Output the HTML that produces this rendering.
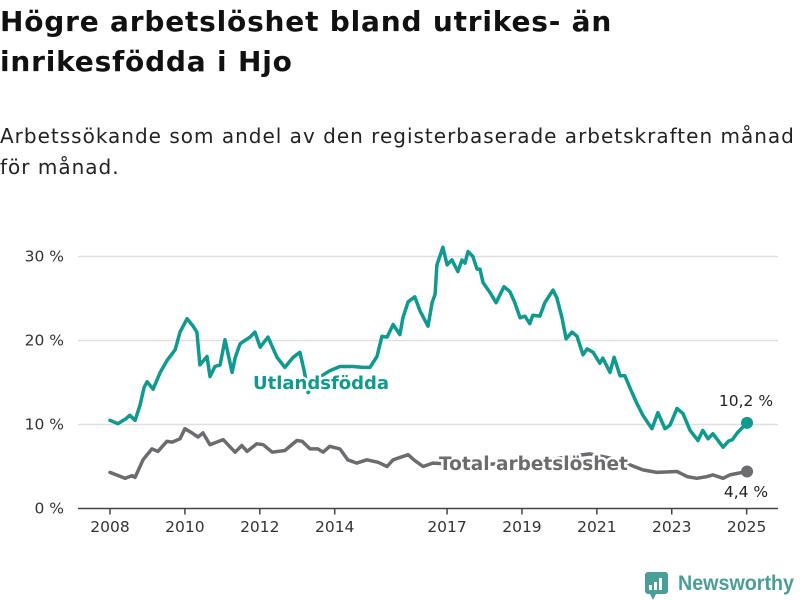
<!DOCTYPE html>
<html><head><meta charset="utf-8"><style>
body{margin:0;background:#fff;width:800px;height:600px;overflow:hidden;font-family:"DejaVu Sans","Liberation Sans",sans-serif}
h1{position:absolute;left:0;top:2px;margin:0;font-size:28px;letter-spacing:0.8px;line-height:40px;font-weight:bold;color:#111;width:820px;white-space:nowrap}
p.sub{position:absolute;left:0;top:121px;margin:0;font-size:20px;letter-spacing:1px;line-height:31px;color:#222;width:820px;white-space:nowrap}
svg{position:absolute;left:0;top:0}
</style></head><body>
<h1>Högre arbetslöshet bland utrikes- än<br>inrikesfödda i Hjo</h1>
<p class="sub">Arbetssökande som andel av den registerbaserade arbetskraften månad<br>för månad.</p>
<svg id="chart" width="800" height="600"></svg>
<script>
const yTicks=[0,10,20,30];
const yTickLabels=["0 %","10 %","20 %","30 %"];
const xTicks=[2008,2010,2012,2014,2017,2019,2021,2023,2025];
const foreignDates=[2008.00,2008.21,2008.43,2008.53,2008.67,2008.80,2008.91,2008.99,2009.15,2009.34,2009.52,2009.74,2009.87,2010.06,2010.22,2010.32,2010.40,2010.59,2010.67,2010.80,2010.94,2011.07,2011.26,2011.34,2011.47,2011.60,2011.74,2011.87,2012.01,2012.22,2012.46,2012.67,2012.89,2013.07,2013.18,2013.29,2013.55,2013.87,2014.14,2014.49,2014.76,2014.94,2015.13,2015.26,2015.40,2015.56,2015.74,2015.82,2015.96,2016.14,2016.28,2016.49,2016.60,2016.68,2016.73,2016.89,2017.00,2017.13,2017.29,2017.40,2017.48,2017.56,2017.69,2017.80,2017.88,2017.96,2018.15,2018.31,2018.52,2018.68,2018.81,2018.95,2019.08,2019.21,2019.29,2019.48,2019.61,2019.83,2019.93,2020.07,2020.18,2020.34,2020.47,2020.63,2020.74,2020.90,2021.08,2021.16,2021.35,2021.46,2021.62,2021.75,2021.88,2022.07,2022.23,2022.47,2022.63,2022.82,2022.95,2023.14,2023.30,2023.49,2023.70,2023.83,2023.97,2024.10,2024.37,2024.51,2024.62,2024.75,2024.88,2025.01];
const foreignValues=[10.5,10.1,10.7,11.1,10.5,12.3,14.4,15.1,14.2,16.2,17.6,18.9,21.0,22.6,21.7,21.0,17.1,18.1,15.7,16.9,17.1,20.1,16.2,17.9,19.6,20.0,20.4,21.0,19.2,20.4,18.0,16.8,18.0,18.6,16.5,13.8,15.5,16.4,16.9,16.9,16.8,16.8,18.1,20.5,20.4,21.9,20.7,22.7,24.6,25.2,23.5,21.7,24.5,25.5,29.0,31.1,29.0,29.6,28.2,29.6,29.2,30.6,30.0,28.5,28.5,26.9,25.7,24.5,26.4,25.8,24.5,22.7,22.9,22.0,23.0,22.9,24.5,26.0,25.1,22.7,20.2,21.0,20.5,18.3,19.0,18.6,17.3,17.9,16.2,18.0,15.8,15.8,14.4,12.5,11.1,9.5,11.4,9.5,9.9,11.9,11.3,9.3,8.1,9.3,8.3,8.9,7.3,8.0,8.2,9.0,9.6,10.2];
const totalDates=[2008.00,2008.40,2008.59,2008.67,2008.88,2009.12,2009.28,2009.52,2009.66,2009.87,2010.00,2010.19,2010.35,2010.48,2010.67,2011.02,2011.34,2011.52,2011.66,2011.92,2012.09,2012.33,2012.67,2012.99,2013.13,2013.34,2013.55,2013.69,2013.87,2014.14,2014.35,2014.59,2014.86,2015.16,2015.40,2015.56,2015.96,2016.14,2016.36,2016.62,2017.08,2017.88,2018.68,2019.48,2020.28,2020.82,2021.35,2021.88,2022.23,2022.60,2023.14,2023.41,2023.67,2023.94,2024.10,2024.37,2024.55,2025.01];
const totalValues=[4.3,3.6,3.9,3.7,5.8,7.1,6.8,8.0,7.9,8.3,9.5,9.0,8.5,9.0,7.6,8.2,6.7,7.5,6.8,7.7,7.6,6.7,6.9,8.1,8.0,7.1,7.1,6.7,7.4,7.1,5.8,5.4,5.8,5.5,5.0,5.8,6.4,5.7,5.0,5.4,5.3,5.2,5.4,5.6,6.2,6.5,6.0,5.2,4.6,4.3,4.4,3.8,3.6,3.8,4.0,3.6,4.0,4.4];
const foreignLabel="Utlandsfödda", totalLabel="Total arbetslöshet";
const TEAL="#0e9a8e", GRAY="#6b6b70";
const x=d=>110+(d-2008)*37.45;
const y=v=>508.5-v*8.4;
const svg=document.getElementById('chart');
const NS="http://www.w3.org/2000/svg";
function mk(tag,attrs,parent){const e=document.createElementNS(NS,tag);for(const k in attrs)e.setAttribute(k,attrs[k]);(parent||svg).appendChild(e);return e;}
yTicks.forEach((t,i)=>{
  if(t>0){const g=mk('line',{x1:78,x2:778,y1:y(t),y2:y(t),stroke:'#e0e0e0','stroke-width':1.5});
  
  }
  const tx=mk('text',{x:64,y:y(t)+5,'text-anchor':'end','font-size':15.5,fill:'#333','font-family':'DejaVu Sans, Liberation Sans, sans-serif'});
  tx.textContent=yTickLabels[i];
  
  
});
const ax=mk('line',{x1:78,x2:778,y1:y(0),y2:y(0),stroke:'#444','stroke-width':1.5});


xTicks.forEach(t=>{
  const tk=mk('line',{x1:x(t),x2:x(t),y1:y(0),y2:y(0)+6,stroke:'#444','stroke-width':1.5});
  
  
  const tx=mk('text',{x:x(t),y:532,'text-anchor':'middle','font-size':15.5,fill:'#333','font-family':'DejaVu Sans, Liberation Sans, sans-serif'});
  tx.textContent=t;
  
  
});
function line(dates,vals,color,name){
  const d=dates.map((t,i)=>(i?'L':'M')+x(t).toFixed(1)+','+y(vals[i]).toFixed(1)).join('');
  const p=mk('path',{d:d,fill:'none',stroke:color,'stroke-width':3.5,'stroke-linejoin':'round','stroke-linecap':'round'});
  
  
  const n=dates.length-1;
  const c=mk('circle',{cx:x(dates[n]),cy:y(vals[n]),r:6,fill:color});
  
  
}
line(totalDates,totalValues,GRAY,'total-line');
line(foreignDates,foreignValues,TEAL,'foreign-born-line');
function lab(txt,xx,yy,color,size,bold,name,anchor){
  const t=mk('text',{x:xx,y:yy,fill:color,'font-size':size,'font-weight':bold?'bold':'normal','text-anchor':anchor||'start',stroke:'#fff','stroke-width':bold?5:0,'paint-order':'stroke','stroke-linejoin':'round','font-family':'DejaVu Sans, Liberation Sans, sans-serif'});
  t.textContent=txt;
  
  
}
lab(foreignLabel,253,389,TEAL,18,true,'foreign-born-series-label');
lab(totalLabel,439,470,GRAY,18.5,true,'total-series-label');
lab((foreignValues[foreignValues.length-1]).toFixed(1).replace('.',',')+' %',746,406,'#222',15.5,false,'foreign-born-end-value','middle');
lab((totalValues[totalValues.length-1]).toFixed(1).replace('.',',')+' %',746,497,'#222',15.5,false,'total-end-value','middle');
</script>
<svg width="800" height="600" style="pointer-events:none">
<rect x="645" y="572" width="23" height="22" rx="3" fill="#4a9e98"/>
<polygon points="650,594 656,594 653,600" fill="#4a9e98"/>
<rect x="649" y="585" width="3" height="5" fill="#fff"/><rect x="654" y="582" width="3" height="8" fill="#fff"/><rect x="659" y="578" width="3" height="12" fill="#fff"/>
<text x="678" y="590" font-size="21" font-weight="bold" fill="#4a9e98" font-family="Liberation Sans, sans-serif" textLength="116" lengthAdjust="spacingAndGlyphs">Newsworthy</text>
</svg>
</body></html>
